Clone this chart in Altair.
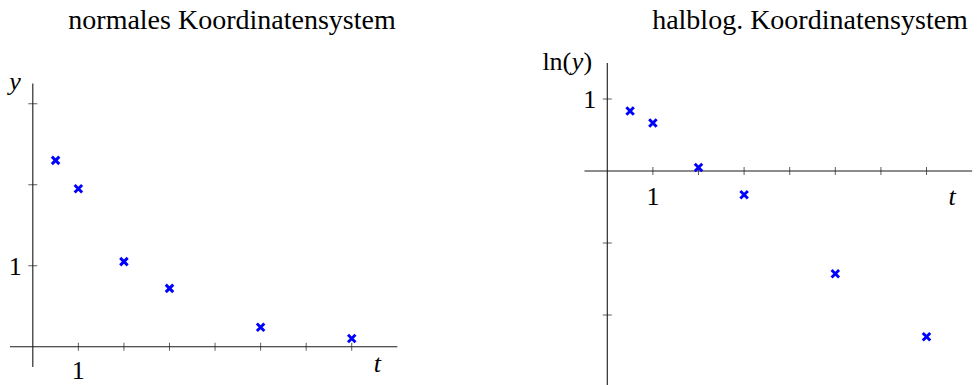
import altair as alt
import pandas as pd

# measured decay: time t and value y
t_vals = [0.5, 1, 2, 3, 5, 7]
y_vals = [2.3, 1.95, 1.05, 0.72, 0.24, 0.1]

x_ticks = [1, 2, 3, 4, 5, 6, 7]
y_ticks_lin = [1, 2, 3]
y_ticks_log = [1, -1, -2]

titles = ["normales Koordinatensystem", "halblog. Koordinatensystem"]

SERIF = "Liberation Serif"
INK = "#1a1a1a"
BLUE = "#0000ff"
CROSS = "M-1,-1L1,1M-1,1L1,-1"
LABEL_SIZE = 26
TITLE_SIZE = 28

pts = pd.DataFrame({"t": t_vals, "y": y_vals})


def coord_panel(width, height, xdom, ydom, x_extent, y_extent, yticks,
                yexpr, title, title_x, t_dy, xlab_dy, name_layers):
    xs = alt.Scale(domain=xdom, zero=False, nice=False)
    ys = alt.Scale(domain=ydom, zero=False, nice=False)
    X = lambda f: alt.X(f, type="quantitative", scale=xs, axis=None)
    Y = lambda f: alt.Y(f, type="quantitative", scale=ys, axis=None)

    xaxis = alt.Chart(pd.DataFrame({"a": [x_extent[0]], "b": [x_extent[1]], "v": [0]})).mark_rule(
        color=INK, strokeWidth=1.1).encode(x=X("a"), x2="b", y=Y("v"))
    yaxis = alt.Chart(pd.DataFrame({"a": [y_extent[0]], "b": [y_extent[1]], "v": [0]})).mark_rule(
        color=INK, strokeWidth=1.1).encode(y=Y("a"), y2="b", x=X("v"))

    xt = alt.Chart(pd.DataFrame({"t": x_ticks, "v": [0] * len(x_ticks)})).mark_tick(
        orient="vertical", size=8, thickness=1, color=INK).encode(x=X("t"), y=Y("v"))
    yt = alt.Chart(pd.DataFrame({"y": yticks, "v": [0] * len(yticks)})).mark_tick(
        orient="horizontal", size=9, thickness=1, color=INK).encode(y=Y("y"), x=X("v"))

    xlab = alt.Chart(pd.DataFrame({"t": [1], "v": [0], "s": ["1"]})).mark_text(
        font=SERIF, fontSize=LABEL_SIZE, align="center", baseline="alphabetic",
        dy=xlab_dy, color="black").encode(x=X("t"), y=Y("v"), text="s:N")
    ylab = alt.Chart(pd.DataFrame({"y": [1], "v": [0], "s": ["1"]})).mark_text(
        font=SERIF, fontSize=LABEL_SIZE, align="right", baseline="middle",
        dx=-11, dy=1, color="black").encode(x=X("v"), y=Y("y"), text="s:N")

    tname = alt.Chart(pd.DataFrame({"t": [x_extent[1]], "v": [0], "s": ["t"]})).mark_text(
        font=SERIF, fontSize=LABEL_SIZE, fontStyle="italic", align="center",
        baseline="alphabetic", dx=-20, dy=t_dy, color="black").encode(
        x=X("t"), y=Y("v"), text="s:N")

    # name of the vertical axis, placed left of its top end
    names = []
    for txt, dx, style in name_layers:
        names.append(alt.Chart(pd.DataFrame({"v": [0], "y": [y_extent[1]], "s": [txt]})).mark_text(
            font=SERIF, fontSize=LABEL_SIZE, fontStyle=style, align="right",
            baseline="alphabetic", dx=dx, dy=7, color="black").encode(
            x=X("v"), y=Y("y"), text="s:N"))

    marks = alt.Chart(pts).transform_calculate(v=yexpr).mark_point(
        shape=CROSS, size=56, strokeWidth=2.9, filled=False, color=BLUE, opacity=1
    ).encode(x=X("t"), y=Y("v"))

    head = alt.Chart(pd.DataFrame({"s": [title]})).mark_text(
        font=SERIF, fontSize=TITLE_SIZE, align="center", baseline="alphabetic",
        color="black").encode(x=alt.value(title_x), y=alt.value(28.5), text="s:N")

    return alt.layer(xaxis, yaxis, xt, yt, xlab, ylab, tname, *names, marks, head).properties(
        width=width, height=height)


left = coord_panel(
    490, 385,
    xdom=[-0.72, 10.035], ydom=[-0.473, 4.28],
    x_extent=[-0.5, 8.0], y_extent=[-0.25, 3.25],
    yticks=y_ticks_lin, yexpr="datum.y",
    title=titles[0], title_x=232, t_dy=25, xlab_dy=32,
    name_layers=[("y", -12, "italic")],
)

right = coord_panel(
    488, 385,
    xdom=[-2.572, 8.129], ydom=[-2.972, 2.375],
    x_extent=[-0.5, 8.0], y_extent=[-2.972, 1.5],
    yticks=y_ticks_log, yexpr="log(datum.y)",
    title=titles[1], title_x=320, t_dy=34, xlab_dy=34,
    name_layers=[(")", -15, "normal"), ("y", -24, "italic"), ("ln(", -36, "normal")],
)

chart = alt.hconcat(left, right, spacing=0).properties(
    padding=0, background="white"
).configure_view(stroke=None)

chart.save("out.html", embed_options={"renderer": "svg", "actions": False})
